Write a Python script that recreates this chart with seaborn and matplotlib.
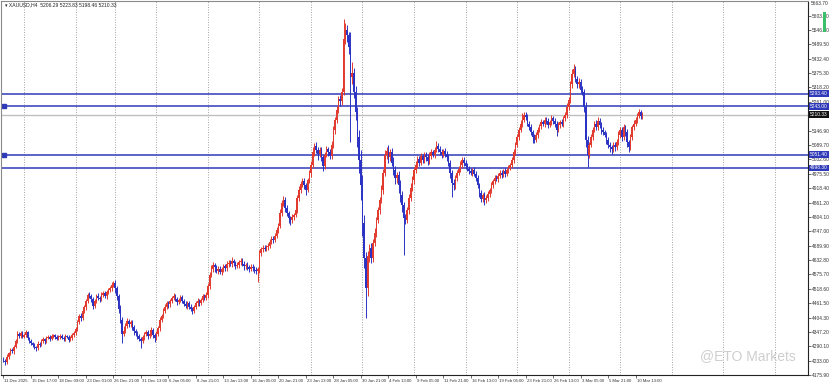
import matplotlib
matplotlib.use("Agg")
import matplotlib.pyplot as plt
import matplotlib.transforms as mtrans
import numpy as np
import pandas as pd
import seaborn as sns

# ---------------- data (XAUUSD H4) ----------------
open_first = 4240
close_w0 = [4232, 4226, 4248, 4262, 4275, 4270, 4288, 4310, 4338, 4330, 4342, 4328]
close_w1 = [4335, 4345, 4322, 4310, 4302, 4295, 4288, 4283, 4300, 4296, 4312, 4318, 4310, 4322, 4328,
            4320, 4330, 4334, 4326, 4320, 4328, 4332, 4324, 4318, 4330, 4326, 4316, 4322, 4334, 4342]
close_w2 = [4360, 4385, 4410, 4402, 4430, 4445, 4470, 4492, 4488, 4478, 4452, 4468, 4490, 4482, 4476,
            4494, 4500, 4488, 4505, 4512, 4520, 4535, 4541]
close_w3 = [4520, 4488, 4440, 4395, 4340, 4352, 4372, 4390, 4378, 4385, 4365, 4350, 4342, 4330, 4318,
            4310, 4325, 4338, 4345, 4330, 4340, 4355, 4334, 4322]
close_w4 = [4340, 4362, 4395, 4410, 4432, 4448, 4460, 4456, 4470, 4482, 4490, 4478, 4466, 4472, 4484,
            4470, 4458, 4450, 4462, 4448, 4440, 4432, 4446, 4460, 4470, 4462, 4475, 4488, 4482, 4495]
close_w5 = [4530, 4575, 4598, 4612, 4605, 4590, 4598, 4586, 4596, 4608, 4600, 4615, 4622, 4618, 4628,
            4620, 4610, 4612, 4624, 4630, 4618, 4608, 4612, 4604, 4598, 4606, 4600, 4594, 4590, 4596]
close_w6 = [4660, 4675, 4682, 4678, 4684, 4690, 4705, 4718, 4712, 4730, 4752, 4768, 4820, 4860, 4872,
            4840, 4820, 4798, 4790, 4805, 4812, 4830, 4880, 4910, 4935, 4948, 4930, 4912, 4950, 4978]
close_w7 = [5010, 5060, 5085, 5070, 5052, 5068, 5040, 5005, 5050, 5072, 5060, 5045, 5090, 5150, 5190,
            5230, 5272, 5265, 5300, 5510, 5545, 5525, 5480, 5360, 5375, 5300, 5220, 5120, 5030, 4930]
close_w8 = [4780, 4640, 4520, 4650, 4680, 4640, 4700, 4740, 4790, 4830, 4870, 4910, 4980, 5050, 5065,
            5040, 5060, 5020, 4990, 4960, 4970, 4930, 4890, 4850, 4800, 4790, 4830, 4880, 4920, 4950]
close_w9 = [4990, 5010, 5035, 5020, 5045, 5030, 5050, 5040, 5025, 5045, 5060, 5050, 5070, 5085, 5075,
            5060, 5050, 5065, 5055, 5040, 5020, 4980, 4940, 4930, 4960, 4980, 4995, 5010, 5030, 5020]
close_w10 = [5005, 4995, 4985, 4980, 4990, 4975, 4960, 4930, 4900, 4875, 4890, 4870, 4880, 4895, 4910,
             4930, 4945, 4960, 4955, 4968, 4980, 4972, 4985, 4975, 4990, 5000, 5010, 5030, 5060, 5090]
close_w11 = [5120, 5150, 5175, 5190, 5210, 5200, 5175, 5160, 5140, 5120, 5110, 5130, 5150, 5165, 5180,
             5175, 5190, 5185, 5170, 5180, 5195, 5185, 5175, 5150, 5170, 5180, 5175, 5195, 5210, 5240]
close_w12 = [5270, 5330, 5370, 5390, 5350, 5330, 5340, 5310, 5300, 5240, 5110, 5050, 5090, 5120, 5150,
             5175, 5160, 5185, 5170, 5150, 5140, 5130, 5110, 5090, 5080, 5075, 5090, 5080, 5100, 5130]
close_w13 = [5150, 5120, 5160, 5140, 5100, 5080, 5120, 5160, 5175, 5190, 5205, 5220, 5205, 5210]

up_w0 = [8, 6, 10, 5, 7, 9, 6, 8, 12, 10, 7, 9]
dn_w0 = [6, 9, 5, 8, 6, 7, 10, 5, 6, 9, 8, 7]
up_w1 = [7, 10, 6, 5, 8, 6, 7, 5, 9, 6, 8, 7, 5, 9, 6, 8, 7, 5, 6, 9, 7, 6, 8, 5, 7, 6, 9, 7, 8, 10]
dn_w1 = [6, 8, 9, 7, 6, 8, 7, 12, 6, 8, 5, 7, 9, 6, 5, 8, 7, 6, 9, 5, 6, 8, 7, 9, 6, 5, 10, 7, 6, 8]
up_w2 = [8, 10, 9, 12, 8, 10, 9, 11, 14, 8, 9, 10, 8, 12, 9, 10, 8, 11, 9, 10, 8, 12, 10]
dn_w2 = [7, 9, 8, 10, 7, 8, 9, 10, 8, 12, 15, 9, 8, 10, 9, 7, 10, 8, 9, 7, 8, 9, 8]
up_w3 = [12, 10, 9, 15, 10, 18, 10, 12, 10, 9, 11, 8, 10, 9, 8, 10, 9, 8, 11, 9, 8, 10, 9, 8]
dn_w3 = [20, 15, 18, 12, 35, 10, 9, 8, 12, 10, 9, 14, 10, 12, 9, 25, 8, 10, 9, 12, 8, 9, 10, 15]
up_w4 = [10, 9, 12, 8, 10, 9, 8, 10, 9, 8, 12, 9, 8, 10, 9, 8, 9, 10, 8, 9, 10, 8, 9, 8, 10, 9, 8, 10, 9, 10]
dn_w4 = [9, 8, 10, 9, 8, 10, 9, 12, 8, 9, 10, 8, 12, 9, 8, 10, 9, 8, 12, 9, 10, 15, 9, 8, 9, 10, 8, 9, 10, 8]
up_w5 = [10, 12, 15, 12, 10, 9, 10, 12, 10, 9, 10, 12, 10, 9, 15, 10, 9, 12, 10, 12, 10, 9, 10, 12, 9, 10, 9, 10, 12, 10]
dn_w5 = [15, 12, 10, 12, 18, 10, 12, 10, 12, 9, 10, 12, 9, 10, 12, 10, 14, 9, 10, 12, 10, 15, 12, 10, 12, 9, 10, 12, 14, 45]
up_w6 = [12, 10, 9, 12, 10, 9, 12, 10, 12, 10, 12, 10, 15, 12, 15, 10, 12, 9, 10, 12, 9, 10, 12, 15, 12, 10, 12, 9, 10, 12]
dn_w6 = [15, 10, 12, 9, 10, 12, 9, 10, 12, 9, 10, 12, 10, 12, 14, 15, 12, 18, 20, 10, 12, 9, 10, 12, 10, 12, 15, 20, 10, 12]
up_w7 = [15, 20, 12, 15, 10, 12, 15, 10, 12, 15, 10, 12, 15, 14, 12, 15, 12, 18, 15, 80, 30, 20, 15, 60, 45, 20, 25, 20, 30, 40]
dn_w7 = [15, 12, 15, 14, 20, 12, 15, 20, 12, 10, 15, 12, 10, 12, 15, 12, 14, 20, 15, 12, 20, 25, 30, 260, 30, 25, 30, 40, 50, 60]
up_w8 = [40, 30, 25, 20, 15, 20, 15, 18, 15, 12, 15, 20, 15, 20, 15, 25, 15, 18, 20, 15, 12, 15, 20, 15, 12, 15, 12, 15, 18, 15]
dn_w8 = [50, 40, 118, 30, 25, 20, 15, 12, 15, 12, 15, 12, 15, 12, 15, 20, 12, 15, 20, 25, 20, 30, 25, 25, 148, 15, 12, 15, 12, 15]
up_w9 = [12, 15, 12, 10, 12, 10, 12, 10, 12, 15, 12, 10, 12, 20, 12, 10, 12, 10, 12, 10, 12, 10, 12, 15, 12, 10, 12, 15, 12, 10]
dn_w9 = [15, 12, 10, 12, 10, 12, 10, 12, 15, 10, 12, 10, 12, 10, 12, 10, 12, 10, 12, 15, 12, 20, 58, 20, 15, 12, 10, 12, 10, 12]
up_w10 = [10, 12, 10, 12, 10, 12, 10, 12, 10, 12, 10, 12, 10, 12, 10, 12, 10, 12, 10, 12, 10, 12, 10, 12, 10, 12, 10, 12, 15, 12]
dn_w10 = [12, 10, 12, 10, 12, 10, 12, 10, 15, 12, 10, 20, 10, 12, 10, 12, 10, 12, 10, 12, 10, 12, 10, 12, 10, 12, 10, 12, 10, 12]
up_w11 = [12, 10, 12, 25, 12, 10, 12, 10, 12, 10, 12, 10, 12, 10, 12, 10, 12, 10, 12, 10, 12, 10, 12, 10, 12, 10, 12, 10, 12, 15]
dn_w11 = [10, 12, 10, 12, 10, 12, 10, 12, 10, 22, 12, 10, 12, 10, 12, 10, 12, 10, 12, 10, 12, 10, 12, 25, 10, 12, 10, 12, 10, 12]
up_w12 = [12, 15, 20, 23, 15, 12, 15, 12, 15, 12, 20, 15, 12, 15, 12, 10, 12, 15, 12, 10, 12, 10, 12, 10, 12, 10, 12, 10, 12, 15]
dn_w12 = [12, 15, 12, 10, 12, 15, 12, 15, 12, 20, 30, 49, 12, 10, 12, 10, 12, 10, 12, 15, 12, 10, 15, 12, 18, 20, 12, 15, 12, 10]
up_w13 = [12, 10, 12, 10, 12, 10, 12, 10, 12, 10, 12, 12, 10, 12]
dn_w13 = [12, 15, 12, 15, 20, 18, 12, 10, 12, 10, 12, 10, 12, 12]

x_labels = ["11 Dec 2025", "15 Dec 17:00", "18 Dec 09:00", "23 Dec 01:00", "26 Dec 21:00",
            "31 Dec 13:00", "6 Jan 05:00", "8 Jan 21:00", "13 Jan 13:00", "16 Jan 05:00",
            "20 Jan 21:00", "23 Jan 13:00", "28 Jan 05:00", "30 Jan 21:00", "4 Feb 13:00",
            "9 Feb 05:00", "11 Feb 21:00", "16 Feb 13:00", "19 Feb 05:00", "23 Feb 21:00",
            "26 Feb 13:00", "3 Mar 05:00", "5 Mar 21:00", "10 Mar 13:00"]
week_start_bars = [12, 42, 65, 89, 119, 149, 179, 209, 239, 269, 299, 329, 359, 389, 419, 449]
y_ticks = [4175.90, 4233.00, 4290.10, 4347.20, 4404.30, 4461.50, 4518.60, 4575.70, 4632.80,
           4689.90, 4747.00, 4804.10, 4861.20, 4918.40, 4975.50, 5032.60, 5089.70, 5146.90,
           5203.90, 5261.00, 5318.20, 5375.30, 5432.40, 5489.50, 5546.60, 5603.70]
top_price = 5663.70
level_lines = [5293.40, 5243.00, 5051.40, 4998.30]
bid_price = 5210.33
title_text = "XAUUSD,H4  5206.29 5223.83 5198.46 5210.33"

# ---------------- build OHLC ----------------
close = sum([close_w0, close_w1, close_w2, close_w3, close_w4, close_w5, close_w6, close_w7,
             close_w8, close_w9, close_w10, close_w11, close_w12, close_w13], [])
up = sum([up_w0, up_w1, up_w2, up_w3, up_w4, up_w5, up_w6, up_w7, up_w8, up_w9, up_w10,
          up_w11, up_w12, up_w13], [])
dn = sum([dn_w0, dn_w1, dn_w2, dn_w3, dn_w4, dn_w5, dn_w6, dn_w7, dn_w8, dn_w9, dn_w10,
          dn_w11, dn_w12, dn_w13], [])
df = pd.DataFrame({"close": close, "up": up, "dn": dn})
df["bar"] = np.arange(len(df))
df["open"] = df["close"].shift(1).fillna(open_first)
df["top"] = df[["open", "close"]].max(axis=1)
df["bot"] = df[["open", "close"]].min(axis=1)
df["high"] = df["top"] + df["up"]
df["low"] = df["bot"] - df["dn"]
RED, BLUE = "#e23a2e", "#2b33c4"
df["color"] = np.where(df["close"] >= df["open"], RED, BLUE)

# ---------------- figure ----------------
sns.set_theme(style="white")
plt.rcParams["font.family"] = ["Liberation Sans", "DejaVu Sans"]
W, H = 831, 387
fig = plt.figure(figsize=(W / 100, H / 100), dpi=100)
px_bar = 27.5 / 16.0
ax_w, ax_h = 808, 375
ax = fig.add_axes([0.5 / W, (H - ax_h) / H, (ax_w - 0.5) / W, (ax_h - 0.5) / H])
ax.set_xlim(-3 / px_bar, (ax_w - 3) / px_bar)
ax.set_ylim(4175.9, top_price)

# grid (weekly separators)
for b in week_start_bars:
    ax.axvline(b, color="#9a9a9a", lw=0.6, ls=(0, (1.2, 1.8)), zorder=0)

# level lines
for lv in level_lines:
    ax.axhline(lv, color="#2f3ab8", lw=1.1, zorder=1)
ax.axhline(bid_price, color="#c0c0c0", lw=1.0, zorder=1)
ax.plot([0.2, 0.2], [level_lines[1], level_lines[2]], ls="none", marker="s", ms=2.2,
        color="#2f3ab8", zorder=2)

# candles
ax.vlines(df["bar"], df["low"], df["high"], colors=df["color"], lw=0.7, zorder=3)
ax.bar(df["bar"], np.maximum(df["top"] - df["bot"], 3), bottom=df["bot"], width=0.85,
       color=df["color"], linewidth=0, zorder=4)

# axes styling
for s in ["top", "left"]:
    ax.spines[s].set_color("#8a8a8a")
    ax.spines[s].set_linewidth(0.8)
for s in ["bottom", "right"]:
    ax.spines[s].set_color("#222222")
    ax.spines[s].set_linewidth(0.8)
ax.yaxis.tick_right()
ax.set_yticks(y_ticks)
ax.set_yticklabels([f"{v:.2f}" for v in y_ticks])
ax.tick_params(axis="y", right=True, length=2, width=0.5, pad=0.8, labelsize=3.5,
               colors="#333333")
ax.set_xticks(np.arange(len(x_labels)) * 16)
ax.set_xticklabels(x_labels, ha="left")
ax.tick_params(axis="x", bottom=True, length=2, width=0.5, pad=0.8, labelsize=3.1,
               colors="#333333")
offset = mtrans.ScaledTranslation(1.0 / 100, 0, fig.dpi_scale_trans)
for lbl in ax.get_xticklabels():
    lbl.set_transform(lbl.get_transform() + offset)
ax.grid(False)

# top max price label
ax.text(1.0 + 3 / ax_w, top_price, f"{top_price:.2f}", transform=ax.get_yaxis_transform(),
        ha="left", va="top", fontsize=3.5, color="#333333", clip_on=False)

# price boxes on the axis
def price_box(val, face):
    ax.text(1.0 + 2 / ax_w, val, f"{val:.2f}", transform=ax.get_yaxis_transform(),
            ha="left", va="center", fontsize=3.5, color="white", clip_on=False, zorder=10,
            bbox=dict(boxstyle="square,pad=0.2", fc=face, ec=face, lw=0))

for lv in level_lines:
    price_box(lv, "#2f3ab8")
price_box(bid_price, "#111111")

# title
fig.text(5 / W, 1 - 5 / H, "\u25be " + title_text, ha="left", va="center", fontsize=3.6,
         color="#222222")

# small indicator bar at top right
fig.patches.append(plt.Rectangle((823 / W, 1 - 32 / H), 3 / W, 20 / H,
                                 transform=fig.transFigure, color="#3cbf6a", lw=0))

# watermark
fig.text(700 / W, 1 - 356 / H, "@ETO Markets", ha="left", va="center", fontsize=10,
         color="#c9c9c9", alpha=0.9)

fig.savefig("out.png", dpi=100, facecolor="white")
